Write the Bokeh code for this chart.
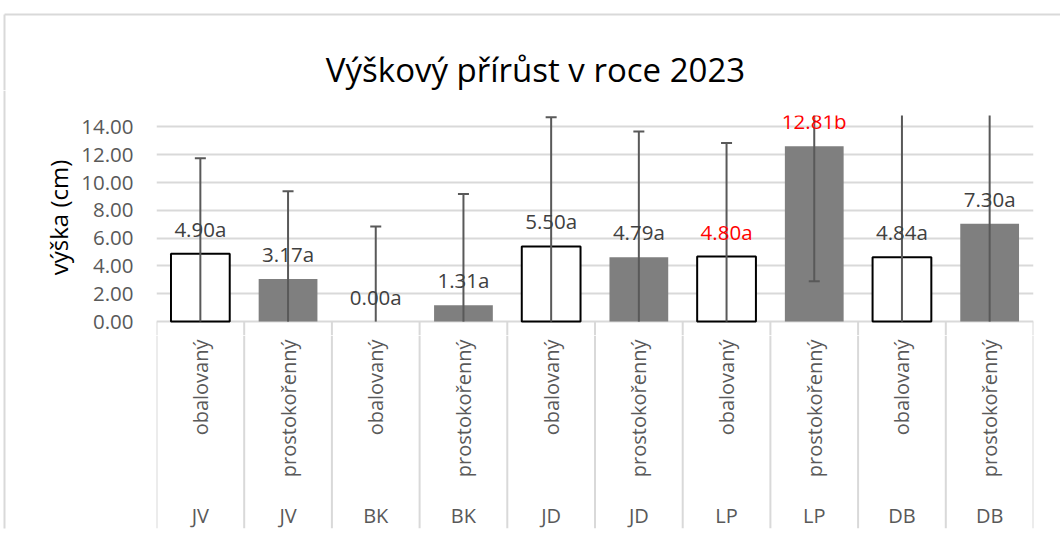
import numpy as np
from math import pi
from bokeh.plotting import figure
from bokeh.layouts import column, row
from bokeh.models import Range1d, FixedTicker, NumeralTickFormatter
from bokeh.core.properties import value
from bokeh.embed import file_html
from bokeh.resources import INLINE

# ---- data ----
species = ["JV", "JV", "BK", "BK", "JD", "JD", "LP", "LP", "DB", "DB"]
root_type = ["obalovaný", "prostokořenný"] * 5
heights = [4.87, 3.07, 0.00, 1.17, 5.40, 4.63, 4.68, 12.61, 4.63, 7.03]
sd = [6.88, 6.30, 6.83, 8.01, 9.30, 9.04, 8.17, 9.71, 11.0, 9.5]
bar_labels = ["4.90a", "3.17a", "0.00a", "1.31a", "5.50a", "4.79a", "4.80a", "12.81b", "4.84a", "7.30a"]
highlight = [0, 0, 0, 0, 0, 0, 1, 1, 0, 0]
y_ticks = [0, 2, 4, 6, 8, 10, 12, 14]
title_text = "Výškový přírůst v roce 2023"
y_title = "výška (cm)"

FONT = "Open Sans"
GRID = "#d9d9d9"
n = len(species)
xs = np.arange(n) + 0.5
h = np.array(heights)
e = np.array(sd)
is_open = np.array([t == "obalovaný" for t in root_type])

Y_TOP = 14.82
Y_BOT = -1.0

TOP_H = 90     # height of the title strip
LEFT_W = 75    # width of the strip holding the y-axis title


def blank(fig):
    fig.outline_line_color = None
    fig.axis.visible = False
    fig.grid.visible = False
    return fig


# ---------------- title strip (with chart border) ----------------
top_strip = blank(figure(width=1060, height=TOP_H, output_backend="svg", toolbar_location=None,
                         x_range=Range1d(0, 1060), y_range=Range1d(TOP_H, 0), min_border=0))
top_strip.segment(x0=4, y0=14, x1=1060, y1=14, line_color=GRID, line_width=2)
top_strip.segment(x0=4, y0=14, x1=4, y1=TOP_H, line_color=GRID, line_width=2)
top_strip.text(x=535, y=68.5, text=[title_text], text_align="center", text_baseline="alphabetic",
               text_color="black", text_font=value(FONT), text_font_size="33px")

# ---------------- y-title strip (with chart border) ----------------
LEFT_H = 535 - TOP_H
left_strip = blank(figure(width=LEFT_W, height=LEFT_H, output_backend="svg", toolbar_location=None,
                          x_range=Range1d(0, LEFT_W), y_range=Range1d(LEFT_H, 0), min_border=0))
left_strip.segment(x0=4, y0=0, x1=4, y1=528 - TOP_H, line_color=GRID, line_width=2)
left_strip.text(x=58, y=217 - TOP_H, text=[y_title], angle=pi / 2, text_align="center",
                text_baseline="middle", text_color="black", text_font=value(FONT),
                text_font_size="24px")

# ---------------- plot area ----------------
p = figure(width=1060 - LEFT_W, height=335 - TOP_H, output_backend="svg", toolbar_location=None,
           x_range=Range1d(0, n), y_range=Range1d(Y_BOT, Y_TOP),
           min_border_left=156 - LEFT_W, min_border_right=27,
           min_border_top=115 - TOP_H, min_border_bottom=0)
p.outline_line_color = None
p.xaxis.visible = False
p.xgrid.visible = False

p.yaxis.ticker = FixedTicker(ticks=y_ticks)
p.yaxis.formatter = NumeralTickFormatter(format="0.00")
p.yaxis.axis_line_color = None
p.yaxis.major_tick_line_color = None
p.yaxis.minor_tick_line_color = None
p.yaxis.major_tick_out = 0
p.yaxis.major_tick_in = 0
p.yaxis.major_label_standoff = 23
p.yaxis.major_label_text_font = FONT
p.yaxis.major_label_text_font_size = "20.5px"
p.yaxis.major_label_text_color = "#595959"

p.ygrid.ticker = FixedTicker(ticks=y_ticks)
p.ygrid.grid_line_color = GRID
p.ygrid.grid_line_width = 2

bounds = np.arange(n + 1)
p.segment(x0=bounds, y0=0, x1=bounds, y1=Y_BOT, line_color=GRID, line_width=2)

# bars
sel_open = is_open & (h > 0)
sel_fill = ~is_open
p.vbar(x=xs[sel_open], top=h[sel_open], bottom=0, width=0.67,
       fill_color="white", line_color="black", line_width=2)
p.vbar(x=xs[sel_fill], top=h[sel_fill], bottom=0, width=0.67,
       fill_color="#7f7f7f", line_color=None)

# error bars (clipped at 0 like the original)
lo = h - e
hi = h + e
p.segment(x0=xs, y0=np.maximum(lo, 0), x1=xs, y1=hi, line_color="#595959", line_width=2)
p.scatter(x=xs, y=hi, marker="dash", size=11, line_color="#595959", line_width=2)
vis_lo = lo >= 0
p.scatter(x=xs[vis_lo], y=lo[vis_lo], marker="dash", size=11, line_color="#595959", line_width=2)

# bar labels
lab_col = ["#ff0000" if f else "#404040" for f in highlight]
p.text(x=xs, y=h, text=bar_labels, y_offset=-25, text_align="center", text_baseline="middle",
       text_color=lab_col, text_font=value(FONT), text_font_size="20.5px")

# ---------------- category table ----------------
q = figure(width=1060 - LEFT_W, height=200, output_backend="svg", toolbar_location=None,
           x_range=p.x_range, y_range=Range1d(193, 0),
           min_border_left=156 - LEFT_W, min_border_right=27, min_border_top=0, min_border_bottom=7)
q.outline_line_color = None
q.axis.visible = False
q.grid.visible = False
q.segment(x0=bounds, y0=0, x1=bounds, y1=193, line_color=GRID, line_width=2)
q.text(x=xs, y=4, text=root_type, angle=pi / 2, text_align="right", text_baseline="middle",
       text_color="#595959", text_font=value(FONT), text_font_size="20px")
q.text(x=xs, y=180, text=species, text_align="center", text_baseline="middle",
       text_color="#595959", text_font=value(FONT), text_font_size="20px")

layout = column(top_strip, row(left_strip, column(p, q, spacing=0), spacing=0), spacing=0)
open("out.html", "w").write(file_html(layout, INLINE))
